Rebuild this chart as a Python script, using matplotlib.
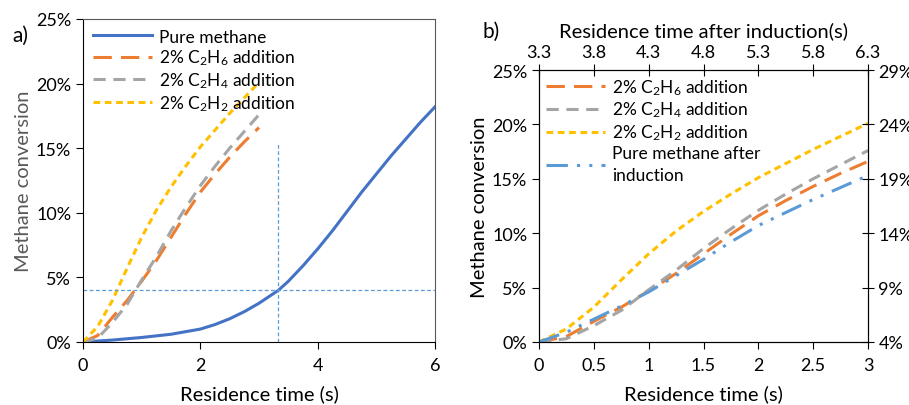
import numpy as np
import matplotlib
matplotlib.use("Agg")
import matplotlib.pyplot as plt
from matplotlib.ticker import FuncFormatter

plt.rcParams['font.family'] = ['Lato', 'DejaVu Sans']
plt.rcParams['mathtext.fontset'] = 'custom'
plt.rcParams['mathtext.rm'] = 'Lato'
plt.rcParams['font.size'] = 12.5

# panel a: pure methane over the whole residence time (s, %)
t_pure = [0, 0.5, 1, 1.5, 2, 2.25, 2.5, 2.75, 3, 3.33, 3.5, 3.75, 4, 4.25, 4.5, 4.75, 5, 5.25, 5.5, 5.75, 6]
pure = [0, 0.15, 0.35, 0.6, 1.0, 1.35, 1.8, 2.35, 3.0, 4.0, 4.7, 5.9, 7.2, 8.6, 10.1, 11.6, 13.0, 14.4, 15.7, 17.0, 18.2]

# additive cases (s, %)
t_add = [0, 0.25, 0.5, 0.75, 1, 1.25, 1.5, 1.75, 2, 2.25, 2.5, 2.75, 3]
c2h6 = [0, 0.5, 1.9, 3.2, 4.7, 6.3, 8.1, 9.9, 11.6, 13.0, 14.3, 15.5, 16.6]
c2h4 = [0, 0.3, 1.5, 2.9, 4.8, 6.6, 8.6, 10.4, 12.1, 13.6, 15.0, 16.3, 17.6]
c2h2 = [0, 1.2, 3.2, 5.7, 8.1, 10.2, 12.0, 13.6, 15.1, 16.4, 17.7, 18.9, 20.1]

# pure methane after induction, on the secondary axes (top: 3.3-6.3 s, right: 4-29 %)
t_after = [3.3, 3.55, 3.8, 4.05, 4.3, 4.55, 4.8, 5.05, 5.3, 5.55, 5.8, 6.05, 6.3]
after = [4.0, 4.9, 6.1, 7.3, 8.6, 10.1, 11.6, 13.2, 14.7, 15.9, 17.1, 18.2, 19.3]

induction_t = 3.33
induction_conv = 4.0

labels_add = ['2% $\\mathregular{C_2H_6}$ addition', '2% $\\mathregular{C_2H_4}$ addition',
              '2% $\\mathregular{C_2H_2}$ addition']

c_blue = '#4472C4'
c_orange = '#ED7D31'
c_gray = '#A5A5A5'
c_yellow = '#FFC000'
c_lblue = '#5B9BD5'

pct = FuncFormatter(lambda v, p: '%d%%' % round(v))
tick_fs = 13
lab_fs = 14.5
leg_fs = 12.5

fig = plt.figure(figsize=(9.09, 4.06), dpi=100)

# ---------- panel a ----------
ax = fig.add_axes([83/909, 63/406, 352/909, 323/406])
ax.plot(t_pure, pure, color=c_blue, lw=2.2, label='Pure methane')
ax.plot(t_add, c2h6, color=c_orange, lw=2.2, dashes=(6, 3), label=labels_add[0])
ax.plot(t_add, c2h4, color=c_gray, lw=2.2, dashes=(4, 2.5), label=labels_add[1])
ax.plot(t_add, c2h2, color=c_yellow, lw=2.2, dashes=(2.2, 1.5), label=labels_add[2])
ax.plot([0, 6], [induction_conv, induction_conv], color=c_lblue, lw=0.9, dashes=(3, 2))
ax.plot([induction_t, induction_t], [0, 15.5], color=c_lblue, lw=0.9, dashes=(3, 2))
ax.set_xlim(0, 6)
ax.set_ylim(0, 25)
ax.set_xticks([0, 2, 4, 6])
ax.set_yticks([0, 5, 10, 15, 20, 25])
ax.yaxis.set_major_formatter(pct)
ax.tick_params(direction='out', length=5, labelsize=tick_fs)
ax.tick_params(axis='x', pad=6)
for s in ['top', 'right']:
    ax.spines[s].set_color('#595959')
ax.set_xlabel('Residence time (s)', fontsize=lab_fs, labelpad=8)
ax.set_ylabel('Methane conversion', fontsize=lab_fs, color='#595959', labelpad=3)
ax.legend(loc='upper left', frameon=False, handlelength=3.4, handletextpad=0.4,
          labelspacing=0.18, borderaxespad=0.15, fontsize=leg_fs)
fig.text(12/909, 1 - 42/406, 'a)', fontsize=15)

# ---------- panel b ----------
pos_b = [539/909, 63/406, 329/909, 272/406]
bx = fig.add_axes(pos_b)
l1, = bx.plot(t_add, c2h6, color=c_orange, lw=2.2, dashes=(6, 3))
l2, = bx.plot(t_add, c2h4, color=c_gray, lw=2.2, dashes=(4, 2.5))
l3, = bx.plot(t_add, c2h2, color=c_yellow, lw=2.2, dashes=(2.2, 1.5))
bx.set_xlim(0, 3)
bx.set_ylim(0, 25)
bx.set_xticks([0, 0.5, 1, 1.5, 2, 2.5, 3])
bx.set_xticklabels(['0', '0.5', '1', '1.5', '2', '2.5', '3'])
bx.set_yticks([0, 5, 10, 15, 20, 25])
bx.yaxis.set_major_formatter(pct)
bx.tick_params(direction='out', length=5, labelsize=tick_fs)
bx.tick_params(axis='x', pad=6)
bx.set_xlabel('Residence time (s)', fontsize=lab_fs, labelpad=8)
bx.set_ylabel('Methane conversion', fontsize=lab_fs, labelpad=3)

b2 = fig.add_axes(pos_b, label='secondary')
b2.patch.set_visible(False)
l4, = b2.plot(t_after, after, color=c_lblue, lw=2.2, dashes=(7, 3, 1, 3, 1, 3))
b2.set_xlim(3.3, 6.3)
b2.set_ylim(4, 29)
b2.xaxis.tick_top()
b2.xaxis.set_label_position('top')
b2.yaxis.tick_right()
b2.set_xticks([3.3, 3.8, 4.3, 4.8, 5.3, 5.8, 6.3])
b2.set_xticklabels(['3.3', '3.8', '4.3', '4.8', '5.3', '5.8', '6.3'])
b2.set_yticks([4, 9, 14, 19, 24, 29])
b2.yaxis.set_major_formatter(pct)
b2.tick_params(direction='inout', length=8, labelsize=tick_fs)
b2.set_xlabel('Residence time after induction(s)', fontsize=lab_fs, labelpad=5)
leg = b2.legend([l1, l2, l3, l4], labels_add + ['Pure methane after\ninduction'],
                loc='upper left', frameon=False, handlelength=3.4, handletextpad=0.4,
                labelspacing=0.18, borderaxespad=0.0, fontsize=leg_fs)
for t in leg.get_texts():
    t.set_linespacing(1.45)
fig.text(483/909, 1 - 38/406, 'b)', fontsize=15)

fig.savefig('out.png', dpi=100)
